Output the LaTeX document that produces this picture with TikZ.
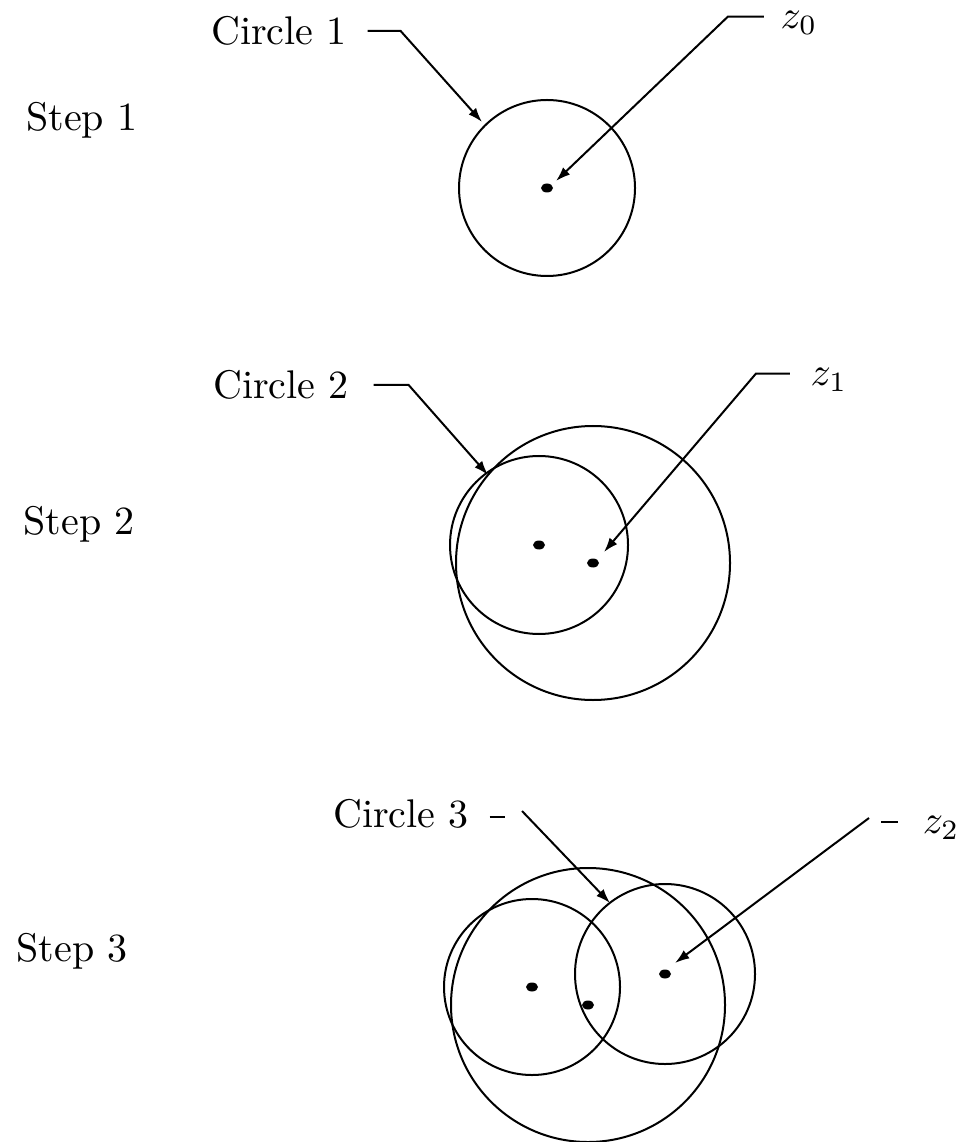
\documentclass[tikz,border=0pt]{standalone}
\usetikzlibrary{arrows.meta}
\tikzset{
  ring/.style={line width=0.5pt},
  leader/.style={line width=0.5pt,-{Latex[length=3.6pt,width=2.5pt]}},
  tick/.style={line width=0.5pt},
  lbl/.style={inner sep=0pt},
}

\begin{document}
\begin{tikzpicture}[x=0.25pt,y=-0.25pt]
  \useasboundingbox (0,0) rectangle (955,1142);

  % Step 1
  \node[lbl] (s1) at (82,120) {Step 1};
  \coordinate (a0) at (547,188);
  \draw[ring] (a0) circle[radius=88];
  \fill (a0) circle[x radius=6,y radius=4.5];
  \node[lbl] (c1lbl) at (279,31) {Circle 1};
  \node[lbl] (z0lbl) at (799,23) {$z_0$};
  \coordinate (c1tip) at (482,122);
  \coordinate (z0tip) at (556,181);
  \draw[leader] ([xshift=5pt]c1lbl.east) -- ++(33,0) -- (c1tip);
  \draw[leader] ([xshift=-4pt,yshift=1.6pt]z0lbl.west) -- ++(-36,0) -- (z0tip);

  % Step 2
  \node[lbl] (s2) at (79,524) {Step 2};
  \coordinate (b0) at (539,545);
  \coordinate (b1) at (593,563);
  \draw[ring] (b0) circle[radius=89];
  \draw[ring] (b1) circle[radius=137];
  \fill (b0) circle[x radius=6,y radius=4.5];
  \fill (b1) circle[x radius=6,y radius=4.5];
  \node[lbl] (c2lbl) at (281,385) {Circle 2};
  \node[lbl] (z1lbl) at (829,380) {$z_1$};
  \coordinate (c2tip) at (488,475);
  \coordinate (z1tip) at (604,552);
  \draw[leader] ([xshift=6pt]c2lbl.east) -- ++(35,0) -- (c2tip);
  \draw[leader] ([xshift=-5pt,yshift=1.6pt]z1lbl.west) -- ++(-34,0) -- (z1tip);

  % Step 3
  \node[lbl] (s3) at (72,951) {Step 3};
  \coordinate (d0) at (532,987);
  \coordinate (d1) at (588,1005);
  \coordinate (d2) at (665,974);
  \draw[ring] (d0) circle[radius=88];
  \draw[ring] (d1) circle[radius=137];
  \draw[ring] (d2) circle[radius=90];
  \fill (d0) circle[x radius=6,y radius=4.5];
  \fill (d1) circle[x radius=6,y radius=4.5];
  \fill (d2) circle[x radius=6,y radius=4.5];
  \node[lbl] (c3lbl) at (401,814) {Circle 3};
  \node[lbl] (z2lbl) at (941,828) {$z_2$};
  \draw[tick] ([xshift=5pt,yshift=-0.8pt]c3lbl.east) -- ++(15,0);
  \draw[tick] ([xshift=-6pt,yshift=1.5pt]z2lbl.west) -- ++(-17,0);
  \coordinate (c3from) at (522,811);
  \coordinate (c3tip) at (610,903);
  \coordinate (z2from) at (869,818);
  \coordinate (z2tip) at (675,963);
  \draw[leader] (c3from) -- (c3tip);
  \draw[leader] (z2from) -- (z2tip);
\end{tikzpicture}
\end{document}
